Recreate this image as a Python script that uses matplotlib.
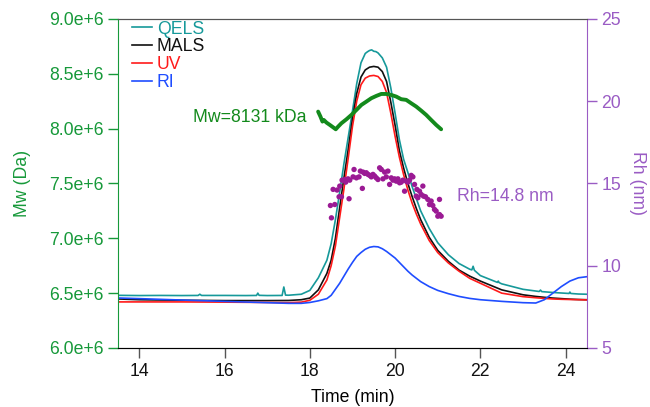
import numpy as np
import matplotlib
matplotlib.use("Agg")
import matplotlib.pyplot as plt

plt.rcParams["font.family"] = ["Liberation Sans", "DejaVu Sans"]
plt.rcParams["font.size"] = 12.7

# === Data ===
# detector traces, expressed on the Mw axis scale (x1e6)
t_trace = [13.5, 14.0, 15.0, 16.0, 17.0, 17.5, 17.8, 18.0, 18.2, 18.4, 18.5, 18.6,
           18.7, 18.8, 18.9, 19.0, 19.1, 19.2, 19.3, 19.4, 19.5, 19.6, 19.7, 19.8,
           19.9, 20.0, 20.1, 20.2, 20.3, 20.4, 20.5, 20.6, 20.8, 21.0, 21.25, 21.5,
           21.75, 22.0, 22.5, 23.0, 23.3, 23.5, 23.7, 23.9, 24.1, 24.3, 24.5]

mals = [6.447, 6.440, 6.435, 6.432, 6.432, 6.433, 6.440, 6.455, 6.530, 6.680, 6.800, 7.000,
        7.280, 7.550, 7.810, 8.090, 8.320, 8.470, 8.535, 8.560, 8.567, 8.560, 8.520, 8.430,
        8.240, 8.030, 7.800, 7.640, 7.500, 7.380, 7.270, 7.170, 7.010, 6.890, 6.790, 6.710,
        6.655, 6.610, 6.530, 6.485, 6.470, 6.462, 6.455, 6.450, 6.445, 6.442, 6.440]

uv = [6.420, 6.420, 6.420, 6.418, 6.415, 6.413, 6.418, 6.435, 6.490, 6.620, 6.750, 6.930,
      7.190, 7.450, 7.730, 8.020, 8.250, 8.400, 8.460, 8.480, 8.485, 8.475, 8.430, 8.330,
      8.140, 7.930, 7.740, 7.580, 7.440, 7.320, 7.220, 7.130, 6.980, 6.870, 6.775, 6.700,
      6.635, 6.590, 6.500, 6.468, 6.458, 6.452, 6.447, 6.444, 6.442, 6.440, 6.438]

ri = [6.456, 6.450, 6.437, 6.425, 6.413, 6.407, 6.407, 6.415, 6.430, 6.450, 6.480, 6.535,
      6.590, 6.655, 6.720, 6.780, 6.835, 6.870, 6.900, 6.918, 6.925, 6.922, 6.905, 6.880,
      6.850, 6.820, 6.780, 6.740, 6.700, 6.665, 6.635, 6.605, 6.560, 6.525, 6.495, 6.470,
      6.452, 6.440, 6.425, 6.413, 6.410, 6.440, 6.500, 6.560, 6.610, 6.640, 6.650]

t_qels = [13.5, 14.0, 14.5, 15.0, 15.38, 15.42, 15.46, 16.0, 16.5, 16.75, 16.78, 16.81,
          17.0, 17.35, 17.39, 17.43, 17.5, 17.8, 18.0, 18.2, 18.4, 18.5, 18.6, 18.7,
          18.8, 18.9, 19.0, 19.1, 19.2, 19.3, 19.35, 19.4, 19.45, 19.5, 19.55, 19.6,
          19.7, 19.8, 19.9, 20.0, 20.1, 20.2, 20.3, 20.4, 20.5, 20.6, 20.8, 21.0,
          21.25, 21.5, 21.75, 21.8, 21.83, 21.86, 22.0, 22.4, 22.42, 22.44, 22.5, 23.0,
          23.38, 23.41, 23.44, 23.7, 24.08, 24.1, 24.12, 24.3, 24.5]
qels = [6.480, 6.478, 6.479, 6.478, 6.479, 6.490, 6.479, 6.479, 6.478, 6.479, 6.500, 6.480,
        6.478, 6.479, 6.556, 6.482, 6.481, 6.490, 6.525, 6.640, 6.800, 6.950, 7.170, 7.420,
        7.680, 7.920, 8.160, 8.410, 8.600, 8.685, 8.700, 8.712, 8.718, 8.705, 8.702, 8.690,
        8.645, 8.560, 8.370, 8.140, 7.900, 7.720, 7.600, 7.470, 7.360, 7.250, 7.090, 6.960,
        6.850, 6.770, 6.718, 6.712, 6.745, 6.708, 6.660, 6.598, 6.610, 6.596, 6.585, 6.535,
        6.515, 6.528, 6.514, 6.506, 6.497, 6.510, 6.497, 6.492, 6.490]

# Mw across the peak (x1e6 Da)
t_mw = [18.195, 18.249, 18.296, 18.327, 18.390, 18.468, 18.546, 18.608, 18.663, 18.741,
        18.858, 18.975, 19.092, 19.209, 19.325, 19.442, 19.559, 19.676, 19.793, 19.910,
        20.027, 20.144, 20.261, 20.378, 20.495, 20.612, 20.729, 20.846, 20.963, 21.080]
mw = [8.155, 8.110, 8.064, 8.079, 8.055, 8.034, 8.012, 7.994, 8.018, 8.049,
      8.085, 8.125, 8.170, 8.216, 8.246, 8.277, 8.298, 8.316, 8.316, 8.307,
      8.292, 8.268, 8.262, 8.231, 8.201, 8.164, 8.125, 8.079, 8.034, 7.994]

# Rh points (nm)
t_rh = [18.507, 18.483, 18.585, 18.546, 18.639, 18.686, 18.741, 18.702, 18.756, 18.819,
        18.842, 18.897, 18.936, 18.920, 19.014, 19.037, 19.092, 19.154, 19.185, 19.232,
        19.248, 19.286, 19.325, 19.364, 19.403, 19.442, 19.481, 19.520, 19.559, 19.598,
        19.637, 19.676, 19.715, 19.754, 19.793, 19.832, 19.871, 19.910, 19.949, 19.988,
        20.027, 20.066, 20.105, 20.144, 20.183, 20.222, 20.261, 20.300, 20.339, 20.378,
        20.417, 20.456, 20.495, 20.511, 20.534, 20.573, 20.612, 20.651, 20.667, 20.713,
        20.768, 20.807, 20.846, 20.885, 20.924, 20.963, 21.002, 21.041, 21.041, 21.080]
rh = [12.91, 13.66, 13.72, 14.64, 14.60, 14.19, 14.19, 14.84, 15.20, 15.24,
      15.08, 15.28, 15.20, 14.07, 15.40, 15.85, 15.34, 15.40, 15.75, 14.70,
      15.69, 15.61, 15.65, 15.55, 15.49, 15.40, 15.55, 15.45, 15.34, 15.24,
      15.95, 15.85, 15.28, 15.69, 15.40, 15.75, 14.94, 15.34, 15.20, 15.28,
      15.14, 15.28, 15.04, 15.08, 15.20, 14.53, 15.14, 15.08, 15.20, 15.49,
      15.40, 14.94, 14.23, 14.64, 14.13, 14.53, 14.33, 14.84, 14.23, 14.19,
      14.03, 13.72, 13.93, 13.66, 13.42, 13.32, 13.01, 14.03, 13.11, 13.01]

mw_ticks = [6.0, 6.5, 7.0, 7.5, 8.0, 8.5, 9.0]
mw_tick_labels = ["6.0e+6", "6.5e+6", "7.0e+6", "7.5e+6", "8.0e+6", "8.5e+6", "9.0e+6"]
rh_ticks = [5, 10, 15, 20, 25]
time_ticks = [14, 16, 18, 20, 22, 24]

# === Colours ===
c_green = "#17993a"
c_mwline = "#138a1c"
c_purple = "#9a5cc4"
c_dots = "#9b1a94"
c_qels = "#16999a"
c_mals = "#111111"
c_uv = "#ff1a1a"
c_ri = "#1f4dff"

fig = plt.figure(figsize=(6.5, 4.07), dpi=100)
ax = fig.add_axes([0.1815, 0.145, 0.7215, 0.8085])

ax.plot(t_qels, qels, color=c_qels, lw=1.2, label="QELS")
ax.plot(t_trace, mals, color=c_mals, lw=1.2, label="MALS")
ax.plot(t_trace, uv, color=c_uv, lw=1.2, label="UV")
ax.plot(t_trace, ri, color=c_ri, lw=1.2, label="RI")
ax.plot(t_mw, mw, color=c_mwline, lw=2.8, solid_capstyle="round", zorder=5)

ax.set_xlim(13.5, 24.5)
ax.set_ylim(6.0, 9.0)
ax.set_yticks(mw_ticks)
ax.set_yticklabels(mw_tick_labels)
ax.set_xticks(time_ticks)

ax.set_xlabel("Time (min)", labelpad=7)
ax.set_ylabel("Mw (Da)", color=c_green, labelpad=13)

ax.tick_params(axis="y", colors=c_green, length=7, width=1)
ax.tick_params(axis="x", colors="#555555", labelcolor="#111111", length=7, width=1)
ax.spines["left"].set_color(c_green)
ax.spines["bottom"].set_color("#555555")
ax.spines["top"].set_color("#555555")
ax.spines["right"].set_visible(False)

ax.text(15.26, 8.097, "Mw=8131 kDa", color=c_mwline, ha="left", va="center")

leg = ax.legend(loc="upper left", bbox_to_anchor=(0.03, 0.995), frameon=False,
                handlelength=1.15, handletextpad=0.25, labelspacing=0.05,
                borderpad=0, borderaxespad=0, labelcolor="linecolor")

ax2 = ax.twinx()
ax2.scatter(t_rh, rh, s=15, color=c_dots, edgecolors="none", zorder=4)
ax2.set_ylim(5, 25)
ax2.set_yticks(rh_ticks)
ax2.set_ylabel("Rh (nm)", color=c_purple, rotation=-90, labelpad=18)
ax2.tick_params(axis="y", colors=c_purple, length=7, width=1)
ax2.spines["right"].set_color(c_purple)
ax2.spines["left"].set_visible(False)
ax2.spines["top"].set_color("#555555")
ax2.text(21.46, 14.21, "Rh=14.8 nm", color=c_purple, ha="left", va="center")

fig.savefig("out.png", dpi=100)
